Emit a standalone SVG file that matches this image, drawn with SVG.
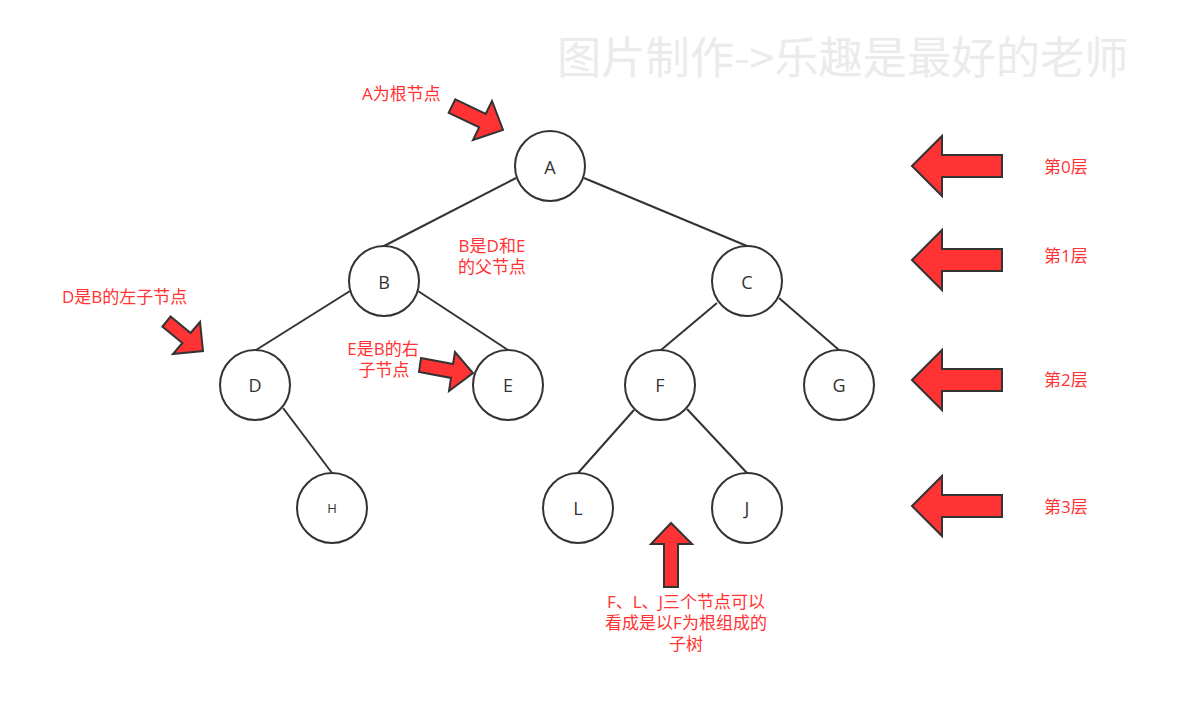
<svg xmlns="http://www.w3.org/2000/svg" width="1181" height="726" viewBox="0 0 1181 726">
<style>
.node circle{fill:#fff;stroke:#333;stroke-width:2}
.node text{font-family:"Open Sans","Noto Sans CJK SC",sans-serif;font-size:18px;fill:#333;text-anchor:middle;dominant-baseline:central}
.edge{stroke:#333;stroke-width:2;fill:none}
.arrow{fill:#FF3333;stroke:#333;stroke-width:2;stroke-linejoin:miter}
.note{font-family:"Open Sans","Noto Sans CJK SC",sans-serif;font-size:17px;fill:#FF3333}
.wm{font-family:"Noto Sans CJK SC",sans-serif;font-size:44.3px;fill:#EBEBEB}
</style>
<rect width="1181" height="726" fill="#fff"/>
<text class="wm" x="557" y="74">图片制作-&gt;乐趣是最好的老师</text>

<g id="connectors">
<line class="edge" x1="516" y1="178" x2="384" y2="246"/>
<line class="edge" x1="584" y1="178" x2="747" y2="246"/>
<line class="edge" x1="350" y1="291" x2="256" y2="350"/>
<line class="edge" x1="418" y1="291" x2="508" y2="350"/>
<line class="edge" x1="717" y1="303" x2="661" y2="350"/>
<line class="edge" x1="779" y1="298" x2="839" y2="350"/>
<line class="edge" x1="283" y1="408" x2="332" y2="473"/>
<line class="edge" x1="634" y1="410" x2="578" y2="473"/>
<line class="edge" x1="687" y1="409" x2="747" y2="473"/>
</g>

<g id="node-A" class="node"><circle cx="550" cy="166" r="35"/><text x="550" y="167">A</text></g>
<g id="node-B" class="node"><circle cx="384" cy="281" r="35"/><text x="384" y="282">B</text></g>
<g id="node-C" class="node"><circle cx="747" cy="281" r="35"/><text x="747" y="282">C</text></g>
<g id="node-D" class="node"><circle cx="255" cy="385" r="35"/><text x="255" y="385">D</text></g>
<g id="node-E" class="node"><circle cx="508" cy="385" r="35"/><text x="508" y="385">E</text></g>
<g id="node-F" class="node"><circle cx="660" cy="385" r="35"/><text x="660" y="385">F</text></g>
<g id="node-G" class="node"><circle cx="839" cy="385" r="35"/><text x="839" y="385">G</text></g>
<g id="node-H" class="node"><circle cx="332" cy="508" r="35"/><text x="332" y="508" style="font-size:13px">H</text></g>
<g id="node-L" class="node"><circle cx="578" cy="508" r="35"/><text x="578" y="508">L</text></g>
<g id="node-J" class="node"><circle cx="747" cy="508" r="35"/><text x="747" y="508">J</text></g>

<g id="pointer-arrows">
<polygon class="arrow" points="455.3,99.3 485.8,113.8 492,101 503,130 473,140 479.2,127.3 448.7,112.8"/>
<polygon class="arrow" points="170.6,316.5 190.6,333 200,322 203,351 173,354 182.4,343 162.4,326.5"/>
<polygon class="arrow" points="421,358.1 453,364.1 455,352 473,373 449,391 451,377.9 419,371.9"/>
<polygon class="arrow" points="671,523 692,544 678,544 678,587 664,587 664,544 651,544"/>
</g>

<g id="layer-arrows">
<polygon class="arrow" points="912,166 942,136 942,155 1002,155 1002,177 942,177 942,196"/>
<polygon class="arrow" points="912,260 942,230 942,249 1002,249 1002,271 942,271 942,290"/>
<polygon class="arrow" points="912,380 942,350 942,369 1002,369 1002,391 942,391 942,410"/>
<polygon class="arrow" points="912,506 942,476 942,495 1002,495 1002,517 942,517 942,536"/>
</g>

<g id="notes">
<text class="note" x="362" y="100">A为根节点</text>
<text class="note" x="492" y="252" text-anchor="middle">B是D和E</text>
<text class="note" x="492" y="273" text-anchor="middle">的父节点</text>
<text class="note" x="62" y="303">D是B的左子节点</text>
<text class="note" x="383" y="355" text-anchor="middle">E是B的右</text>
<text class="note" x="384" y="376" text-anchor="middle">子节点</text>
<text class="note" x="1044" y="173">第0层</text>
<text class="note" x="1044" y="262">第1层</text>
<text class="note" x="1044" y="386">第2层</text>
<text class="note" x="1044" y="513">第3层</text>
<text class="note" x="686" y="608" text-anchor="middle">F、L、J三个节点可以</text>
<text class="note" x="686" y="629" text-anchor="middle">看成是以F为根组成的</text>
<text class="note" x="686" y="650" text-anchor="middle">子树</text>
</g>
</svg>
